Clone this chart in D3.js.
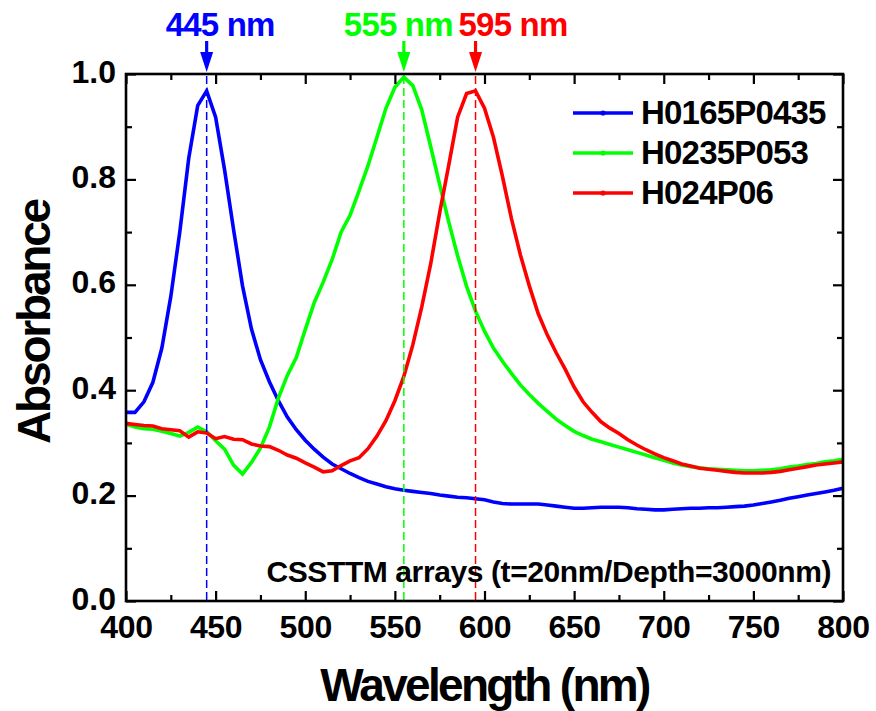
<!DOCTYPE html>
<html>
<head>
<meta charset="utf-8">
<script src="https://cdn.jsdelivr.net/npm/d3@7"></script>
<style>
  html, body { margin: 0; padding: 0; background: #fff; }
  svg text { font-family: "Liberation Sans", Arial, sans-serif; font-weight: bold; }
</style>
</head>
<body>
<svg id="chart" width="876" height="711"></svg>
<script>
// Wavelength grid (nm)
const wavelengths = [
  400,405,410,415,420,425,430,435,440,445,450,455,460,465,470,475,480,485,490,495,
  500,505,510,515,520,525,530,535,540,545,550,555,560,565,570,575,580,585,590,595,
  600,605,610,615,620,625,630,635,640,645,650,655,660,665,670,675,680,685,690,695,
  700,705,710,715,720,725,730,735,740,745,750,755,760,765,770,775,780,785,790,795,800
];

// Absorbance spectra
const absH0165P0435 = [
  .358,.358,.378,.415,.480,.578,.700,.840,.940,.968,.918,.818,.705,.598,.516,.458,.416,.380,.349,.325,
  .305,.288,.273,.260,.251,.242,.234,.227,.222,.217,.213,.210,.208,.206,.204,.201,.199,.197,.196,.194,
  .192,.188,.185,.184,.184,.184,.184,.182,.180,.178,.176,.176,.177,.178,.178,.178,.177,.175,.174,.173,
  .173,.174,.175,.176,.176,.177,.177,.178,.179,.180,.182,.185,.188,.191,.195,.198,.201,.204,.207,.210,.214
];
const absH0235P053 = [
  .336,.330,.327,.326,.322,.318,.313,.320,.330,.321,.304,.288,.258,.241,.263,.290,.330,.385,.428,.462,
  .515,.566,.605,.648,.700,.732,.778,.826,.880,.935,.975,.994,.978,.932,.862,.790,.720,.655,.597,.550,
  .512,.480,.455,.432,.410,.392,.375,.360,.345,.333,.322,.314,.307,.302,.297,.292,.287,.282,.277,.272,
  .267,.262,.258,.255,.253,.251,.250,.249,.248,.247,.247,.248,.249,.251,.254,.256,.259,.261,.264,.266,.269
];
const absH024P06 = [
  .337,.335,.333,.332,.327,.325,.323,.311,.321,.319,.308,.312,.307,.306,.298,.294,.293,.286,.277,.271,
  .262,.254,.245,.247,.257,.266,.272,.289,.313,.342,.380,.426,.486,.558,.640,.737,.826,.918,.963,.968,
  .935,.880,.806,.726,.657,.598,.545,.505,.471,.440,.406,.378,.358,.340,.328,.318,.306,.296,.287,.279,
  .272,.266,.260,.256,.252,.250,.248,.246,.244,.243,.243,.243,.244,.246,.249,.252,.255,.258,.260,.262,.264
];

const seriesNames = ["H0165P0435", "H0235P053", "H024P06"];
const seriesColors = ["#0000ff", "#00ff00", "#ff0000"];
const seriesValues = [absH0165P0435, absH0235P053, absH024P06];

// Peak positions marked above the frame
const peakWavelengths = [445, 555, 595];
const peakLabels = ["445 nm", "555 nm", "595 nm"];
const peakLabelShift = [-41, -60, -17];

// Axis ticks
const xMajorTicks = [400, 450, 500, 550, 600, 650, 700, 750, 800];
const xMinorTicks = [425, 475, 525, 575, 625, 675, 725, 775];
const yMajorTicks = [0.0, 0.2, 0.4, 0.6, 0.8, 1.0];
const yMinorTicks = [0.1, 0.3, 0.5, 0.7, 0.9];

const note = "CSSTTM arrays (t=20nm/Depth=3000nm)";

const svg = d3.select("#chart");
const L = 126, R = 843, T = 74, B = 601;

const x = d3.scaleLinear().domain([400, 800]).range([L, R]);
const y = d3.scaleLinear().domain([0, 1]).range([B, T]);

// Curves
const line = d3.line()
  .x((d, i) => x(wavelengths[i]))
  .y(d => y(d));

seriesValues.forEach((vals, k) => {
  svg.append("path")
    .datum(vals)
    .attr("d", line)
    .attr("fill", "none")
    .attr("stroke", seriesColors[k])
    .attr("stroke-width", 3.6)
    .attr("stroke-linejoin", "miter");
});

// Dashed peak markers
peakWavelengths.forEach((w, k) => {
  svg.append("line")
    .attr("x1", x(w)).attr("x2", x(w))
    .attr("y1", T + 2).attr("y2", B)
    .attr("stroke", seriesColors[k])
    .attr("stroke-width", 1.5)
    .attr("stroke-dasharray", "8,4");
});

// Axes: major and minor ticks pointing inward on all four sides
function styleAxis(g) {
  g.select(".domain").remove();
  g.selectAll(".tick line").attr("stroke", "#000").attr("stroke-width", 2.2);
}
const fmt = d3.format(".1f");

svg.append("g").attr("transform", `translate(0,${B})`)
  .call(d3.axisBottom(x).tickValues(xMajorTicks).tickSize(-10).tickFormat(d3.format("d")))
  .call(styleAxis)
  .call(g => g.selectAll("text")
    .attr("y", 37).attr("dy", 0)
    .attr("fill", "#000")
    .style("font-size", "32px")
    .style("letter-spacing", "-0.3px"));
svg.append("g").attr("transform", `translate(0,${B})`)
  .call(d3.axisBottom(x).tickValues(xMinorTicks).tickSize(-6).tickFormat(""))
  .call(styleAxis);
svg.append("g").attr("transform", `translate(0,${T})`)
  .call(d3.axisTop(x).tickValues(xMajorTicks).tickSize(-10).tickFormat(""))
  .call(styleAxis);
svg.append("g").attr("transform", `translate(0,${T})`)
  .call(d3.axisTop(x).tickValues(xMinorTicks).tickSize(-6).tickFormat(""))
  .call(styleAxis);

svg.append("g").attr("transform", `translate(${L},0)`)
  .call(d3.axisLeft(y).tickValues(yMajorTicks).tickSize(-10).tickFormat(fmt))
  .call(styleAxis)
  .call(g => g.selectAll("text")
    .attr("x", -10).attr("dy", 8)
    .attr("fill", "#000")
    .style("font-size", "32px")
    .style("letter-spacing", "0px"));
svg.append("g").attr("transform", `translate(${L},0)`)
  .call(d3.axisLeft(y).tickValues(yMinorTicks).tickSize(-6).tickFormat(""))
  .call(styleAxis);
svg.append("g").attr("transform", `translate(${R},0)`)
  .call(d3.axisRight(y).tickValues(yMajorTicks).tickSize(-10).tickFormat(""))
  .call(styleAxis);
svg.append("g").attr("transform", `translate(${R},0)`)
  .call(d3.axisRight(y).tickValues(yMinorTicks).tickSize(-6).tickFormat(""))
  .call(styleAxis);

// Frame
svg.append("rect")
  .attr("x", L).attr("y", T)
  .attr("width", R - L).attr("height", B - T)
  .attr("fill", "none")
  .attr("stroke", "#000")
  .attr("stroke-width", 2.6);

// Peak arrows and labels
peakWavelengths.forEach((w, k) => {
  const cx = x(w);
  svg.append("line")
    .attr("x1", cx).attr("x2", cx)
    .attr("y1", 41).attr("y2", 56)
    .attr("stroke", seriesColors[k])
    .attr("stroke-width", 3.2);
  svg.append("path")
    .attr("d", `M${cx - 6.5},52 L${cx + 6.5},52 L${cx},${T - 2} Z`)
    .attr("fill", seriesColors[k]);
  svg.append("text")
    .attr("x", cx + peakLabelShift[k])
    .attr("y", 36)
    .attr("fill", seriesColors[k])
    .style("font-size", "33px")
    .style("letter-spacing", "-0.8px")
    .text(peakLabels[k]);
});

// Legend
const legendY = [113, 153, 193];
seriesNames.forEach((name, k) => {
  svg.append("line")
    .attr("x1", 573).attr("x2", 633)
    .attr("y1", legendY[k]).attr("y2", legendY[k])
    .attr("stroke", seriesColors[k])
    .attr("stroke-width", 3.6);
  svg.append("circle")
    .attr("cx", 603).attr("cy", legendY[k]).attr("r", 2.6)
    .attr("fill", seriesColors[k]);
  svg.append("text")
    .attr("x", 641).attr("y", legendY[k] + 11)
    .attr("fill", "#000")
    .style("font-size", "33px")
    .style("letter-spacing", "-0.8px")
    .text(name);
});

// Sample note
svg.append("text")
  .attr("x", 831).attr("y", 582)
  .attr("text-anchor", "end")
  .attr("fill", "#000")
  .style("font-size", "30px")
  .style("letter-spacing", "-0.4px")
  .text(note);

// Axis titles
svg.append("text")
  .attr("x", (L + R) / 2).attr("y", 701)
  .attr("text-anchor", "middle")
  .attr("fill", "#000")
  .style("font-size", "46px")
  .style("letter-spacing", "-2.7px")
  .text("Wavelength (nm)");
svg.append("text")
  .attr("transform", "translate(50,322) rotate(-90)")
  .attr("text-anchor", "middle")
  .attr("fill", "#000")
  .style("font-size", "46px")
  .style("letter-spacing", "-2.2px")
  .text("Absorbance");
</script>
</body>
</html>
